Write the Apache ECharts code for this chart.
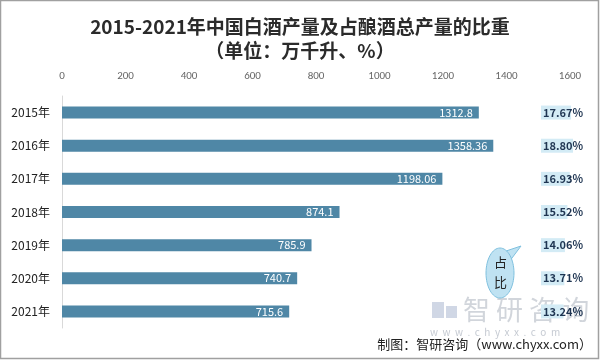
<!DOCTYPE html>
<html><head><meta charset="utf-8">
<script src="https://cdn.jsdelivr.net/npm/echarts@6/dist/echarts.min.js"></script>
<style>html,body{margin:0;padding:0;background:#fff}#c{width:600px;height:360px}</style>
</head><body><div id="c"></div>
<script>
const categories = ['2015年','2016年','2017年','2018年','2019年','2020年','2021年'];
const production = [1312.8, 1358.36, 1198.06, 874.1, 785.9, 740.7, 715.6];
const shares = [17.67, 18.80, 16.93, 15.52, 14.06, 13.71, 13.24];
const shareLabels = ['17.67%','18.80%','16.93%','15.52%','14.06%','13.71%','13.24%'];
const axisTicks = [0,200,400,600,800,1000,1200,1400,1600];

const chart = echarts.init(document.getElementById('c'));
const font = '"Noto Sans CJK SC", "Noto Sans", sans-serif';
chart.setOption({
  animation: false,
  textStyle: {fontFamily: font},
  title: [
    {text: '2015-2021年中国白酒产量及占酿酒总产量的比重', left: 'center', top: 12,
     textStyle: {fontSize: 19, fontWeight: 'bold', color: '#2b2b2b', fontFamily: font}},
    {text: '（单位：万千升、%）', left: 'center', top: 36,
     textStyle: {fontSize: 19, fontWeight: 'bold', color: '#2b2b2b', fontFamily: font}}
  ],
  grid: [
    {left: 62, right: 30, top: 96, height: 232},
    {left: 541, width: 40, top: 96, height: 232}
  ],
  xAxis: [
    {gridIndex: 0, type: 'value', position: 'top', min: axisTicks[0], max: axisTicks[axisTicks.length-1], interval: 200,
     axisLine: {show: false}, axisTick: {show: false}, splitLine: {show: false},
     axisLabel: {color: '#666', fontSize: 11, margin: 14, formatter: v => String(v),
       fontFamily: 'Calibri, "Liberation Sans", sans-serif'}},
    {gridIndex: 1, type: 'value', min: 0, max: 23.5, show: false}
  ],
  yAxis: [
    {gridIndex: 0, type: 'category', data: categories, inverse: true,
     axisLine: {show: true, lineStyle: {color: '#d9d9d9'}}, axisTick: {show: false},
     axisLabel: {color: '#222', fontSize: 12, margin: 12}},
    {gridIndex: 1, type: 'category', data: categories, inverse: true, show: false}
  ],
  series: [
    {type: 'bar', xAxisIndex: 0, yAxisIndex: 0, data: production, barWidth: 12,
     itemStyle: {color: '#4f87a6'},
     label: {show: true, position: 'insideRight', color: '#fff', fontSize: 11, distance: 6}},
    {type: 'bar', xAxisIndex: 1, yAxisIndex: 1, data: shares, barWidth: 14,
     itemStyle: {color: '#d3ebf5'},
     label: {show: true, position: 'insideLeft', distance: 2, color: '#1f3552', fontSize: 11, fontWeight: 'bold',
       formatter: p => shareLabels[p.dataIndex]}}
  ],
  graphic: [
    {type: 'rect', shape: {x: 0.5, y: 0.5, width: 598, height: 358}, style: {fill: 'none', stroke: '#a0a0a0', lineWidth: 1.5}, z: 0},
    {type: 'polygon', shape: {points: [[503, 252], [521, 246], [509, 262]]}, style: {fill: '#bfe2f2', stroke: '#7fc0de', lineWidth: 1}, z: 9},
    {type: 'ellipse', shape: {cx: 500, cy: 273, rx: 14, ry: 25}, style: {fill: '#bfe2f2', stroke: '#7fc0de', lineWidth: 1}, z: 10},
    {type: 'text', left: 494, top: 256, style: {text: '占', fontSize: 13, fill: '#222', fontFamily: font}, z: 11},
    {type: 'text', left: 494, top: 276, style: {text: '比', fontSize: 13, fill: '#222', fontFamily: font}, z: 11},
    {type: 'rect', shape: {x: 432, y: 302, width: 12, height: 16}, style: {fill: 'rgba(120,140,180,0.35)'}, z: 1},
    {type: 'rect', shape: {x: 446, y: 306, width: 11, height: 12}, style: {fill: 'rgba(120,140,180,0.35)'}, z: 1},
    {type: 'text', left: 463, top: 296, style: {text: '智 研 咨 询', fontSize: 27, fill: 'rgba(140,150,165,0.4)', fontFamily: font}, z: 1},
    {type: 'text', left: 430, top: 327, style: {text: 'w  w  w  .  c  h  y  x  x  .  c  o  m', fontSize: 10, fill: 'rgba(140,150,165,0.5)', fontFamily: font}, z: 1},
    {type: 'text', right: 8, top: 338, style: {text: '制图：智研咨询（www.chyxx.com）', fontSize: 13, fill: '#222', fontFamily: font}, z: 12}
  ]
});
</script></body></html>
